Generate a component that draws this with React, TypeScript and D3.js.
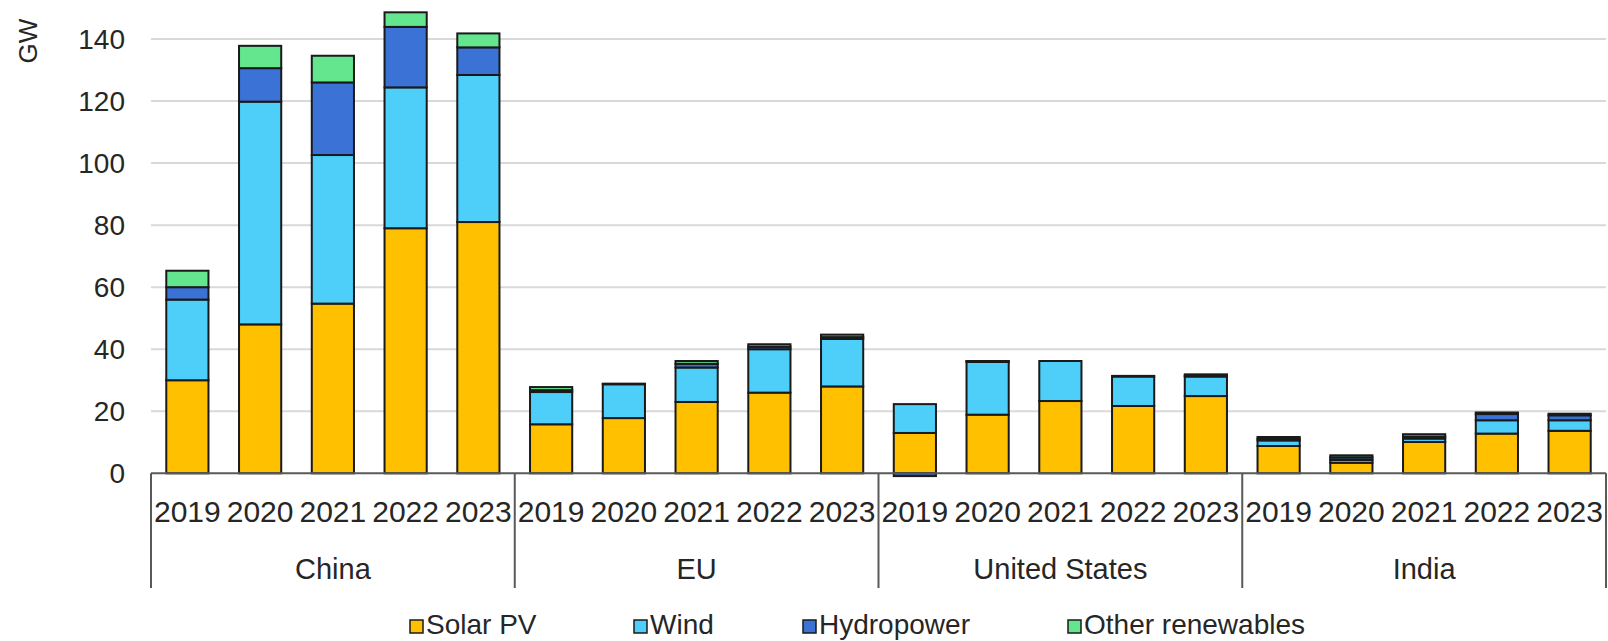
import React from 'react';
import * as d3 from 'd3';

const regions = ['China', 'EU', 'United States', 'India'];
const years = ['2019', '2020', '2021', '2022', '2023'];

// GW, one value per region-year slot (China 2019..2023, EU, US, India)
const solar = [30, 48, 54.7, 79, 81, 15.8, 17.8, 23, 26, 28, 13, 18.9, 23.3, 21.7, 24.9, 8.8, 3.4, 10.1, 12.8, 13.7];
const wind = [26, 71.8, 47.9, 45.4, 47.4, 10.4, 10.9, 11.1, 14, 15.3, 9.3, 17, 12.9, 9.5, 6.3, 1.8, 0.9, 1.1, 4.3, 3.4];
const hydro = [4, 10.8, 23.4, 19.5, 8.9, 0.6, 0, 1.2, 0.8, 0.6, -0.9, 0.2, 0, 0.2, 0.3, 0.6, 0.8, 0.6, 2.0, 1.6];
const other = [5.3, 7.2, 8.6, 4.7, 4.5, 1.0, 0.2, 0.9, 0.8, 0.8, 0, 0.1, 0, 0, 0.4, 0.5, 0.7, 0.8, 0.5, 0.5];

const yTicks = [0, 20, 40, 60, 80, 100, 120, 140];

const series = [
  { key: 'solar', label: 'Solar PV', color: '#FFC000' },
  { key: 'wind', label: 'Wind', color: '#4DCFFA' },
  { key: 'hydro', label: 'Hydropower', color: '#3A72D6' },
  { key: 'other', label: 'Other renewables', color: '#64E68E' },
];

const W = 1608;
const H = 641;
const FONT = '"Liberation Sans", Arial, sans-serif';
const TEXT = '#262626';

export default function App() {
  const slots = regions.flatMap(r => years.map(y => `${r}|${y}`));
  const rows = slots.map((s, i) => ({
    slot: s,
    solar: solar[i],
    wind: wind[i],
    hydro: hydro[i],
    other: other[i],
  }));

  const stacked = d3
    .stack<any>()
    .keys(series.map(s => s.key))
    .offset(d3.stackOffsetDiverging)(rows);

  const left = 151;
  const right = 1606;
  const x = d3.scaleBand<string>().domain(slots).range([left, right]).paddingInner(0.42).paddingOuter(0.21);
  const y = d3.scaleLinear().domain([0, 140]).range([473.3, 39]);

  const groupW = (right - left) / regions.length;
  const legendX = [410, 634, 803, 1068];

  return (
    <div style={{ position: 'absolute', left: 0, top: 0 }}>
      <svg width={W} height={H} style={{ display: 'block', background: '#fff' }}>
        {/* gridlines */}
        {yTicks.filter(t => t > 0).map(t => (
          <line key={t} x1={left} x2={right} y1={y(t)} y2={y(t)} stroke="#d9d9d9" strokeWidth={2} />
        ))}

        {/* y tick labels */}
        {yTicks.map(t => (
          <text key={t} x={125} y={y(t)} dy="0.35em" textAnchor="end" fontSize={28} fontFamily={FONT} fill={TEXT}>
            {t}
          </text>
        ))}
        <text
          transform={`translate(37,41) rotate(-90)`}
          textAnchor="middle"
          fontSize={26}
          fontFamily={FONT}
          fill={TEXT}
        >
          GW
        </text>

        {/* bars */}
        {stacked.map((layer, si) => (
          <g key={layer.key} fill={series[si].color} stroke="#1a1a1a" strokeWidth={2}>
            {layer.map((d, i) => {
              const y0 = y(d[0]);
              const y1 = y(d[1]);
              const h = Math.abs(y0 - y1);
              if (h < 0.01) return null;
              return <rect key={i} x={x(slots[i])} y={Math.min(y0, y1)} width={x.bandwidth()} height={h} />;
            })}
          </g>
        ))}

        {/* x axis */}
        <line x1={left} x2={right} y1={y(0)} y2={y(0)} stroke="#595959" strokeWidth={2} />
        {d3.range(regions.length + 1).map(i => (
          <line
            key={i}
            x1={left + i * groupW}
            x2={left + i * groupW}
            y1={y(0)}
            y2={588}
            stroke="#595959"
            strokeWidth={2}
          />
        ))}
        {slots.map(s => (
          <text
            key={s}
            x={x(s)! + x.bandwidth() / 2}
            y={522}
            textAnchor="middle"
            fontSize={30}
            fontFamily={FONT}
            fill={TEXT}
          >
            {s.split('|')[1]}
          </text>
        ))}
        {regions.map((r, i) => (
          <text
            key={r}
            x={left + (i + 0.5) * groupW}
            y={579}
            textAnchor="middle"
            fontSize={29}
            fontFamily={FONT}
            fill={TEXT}
          >
            {r}
          </text>
        ))}

        {/* legend */}
        {series.map((s, i) => (
          <g key={s.key} transform={`translate(${legendX[i]},0)`}>
            <rect x={0} y={620} width={13} height={13} fill={s.color} stroke="#1a1a1a" strokeWidth={1.5} />
            <text x={16} y={634} fontSize={28} fontFamily={FONT} fill={TEXT}>
              {s.label}
            </text>
          </g>
        ))}
      </svg>
    </div>
  );
}
